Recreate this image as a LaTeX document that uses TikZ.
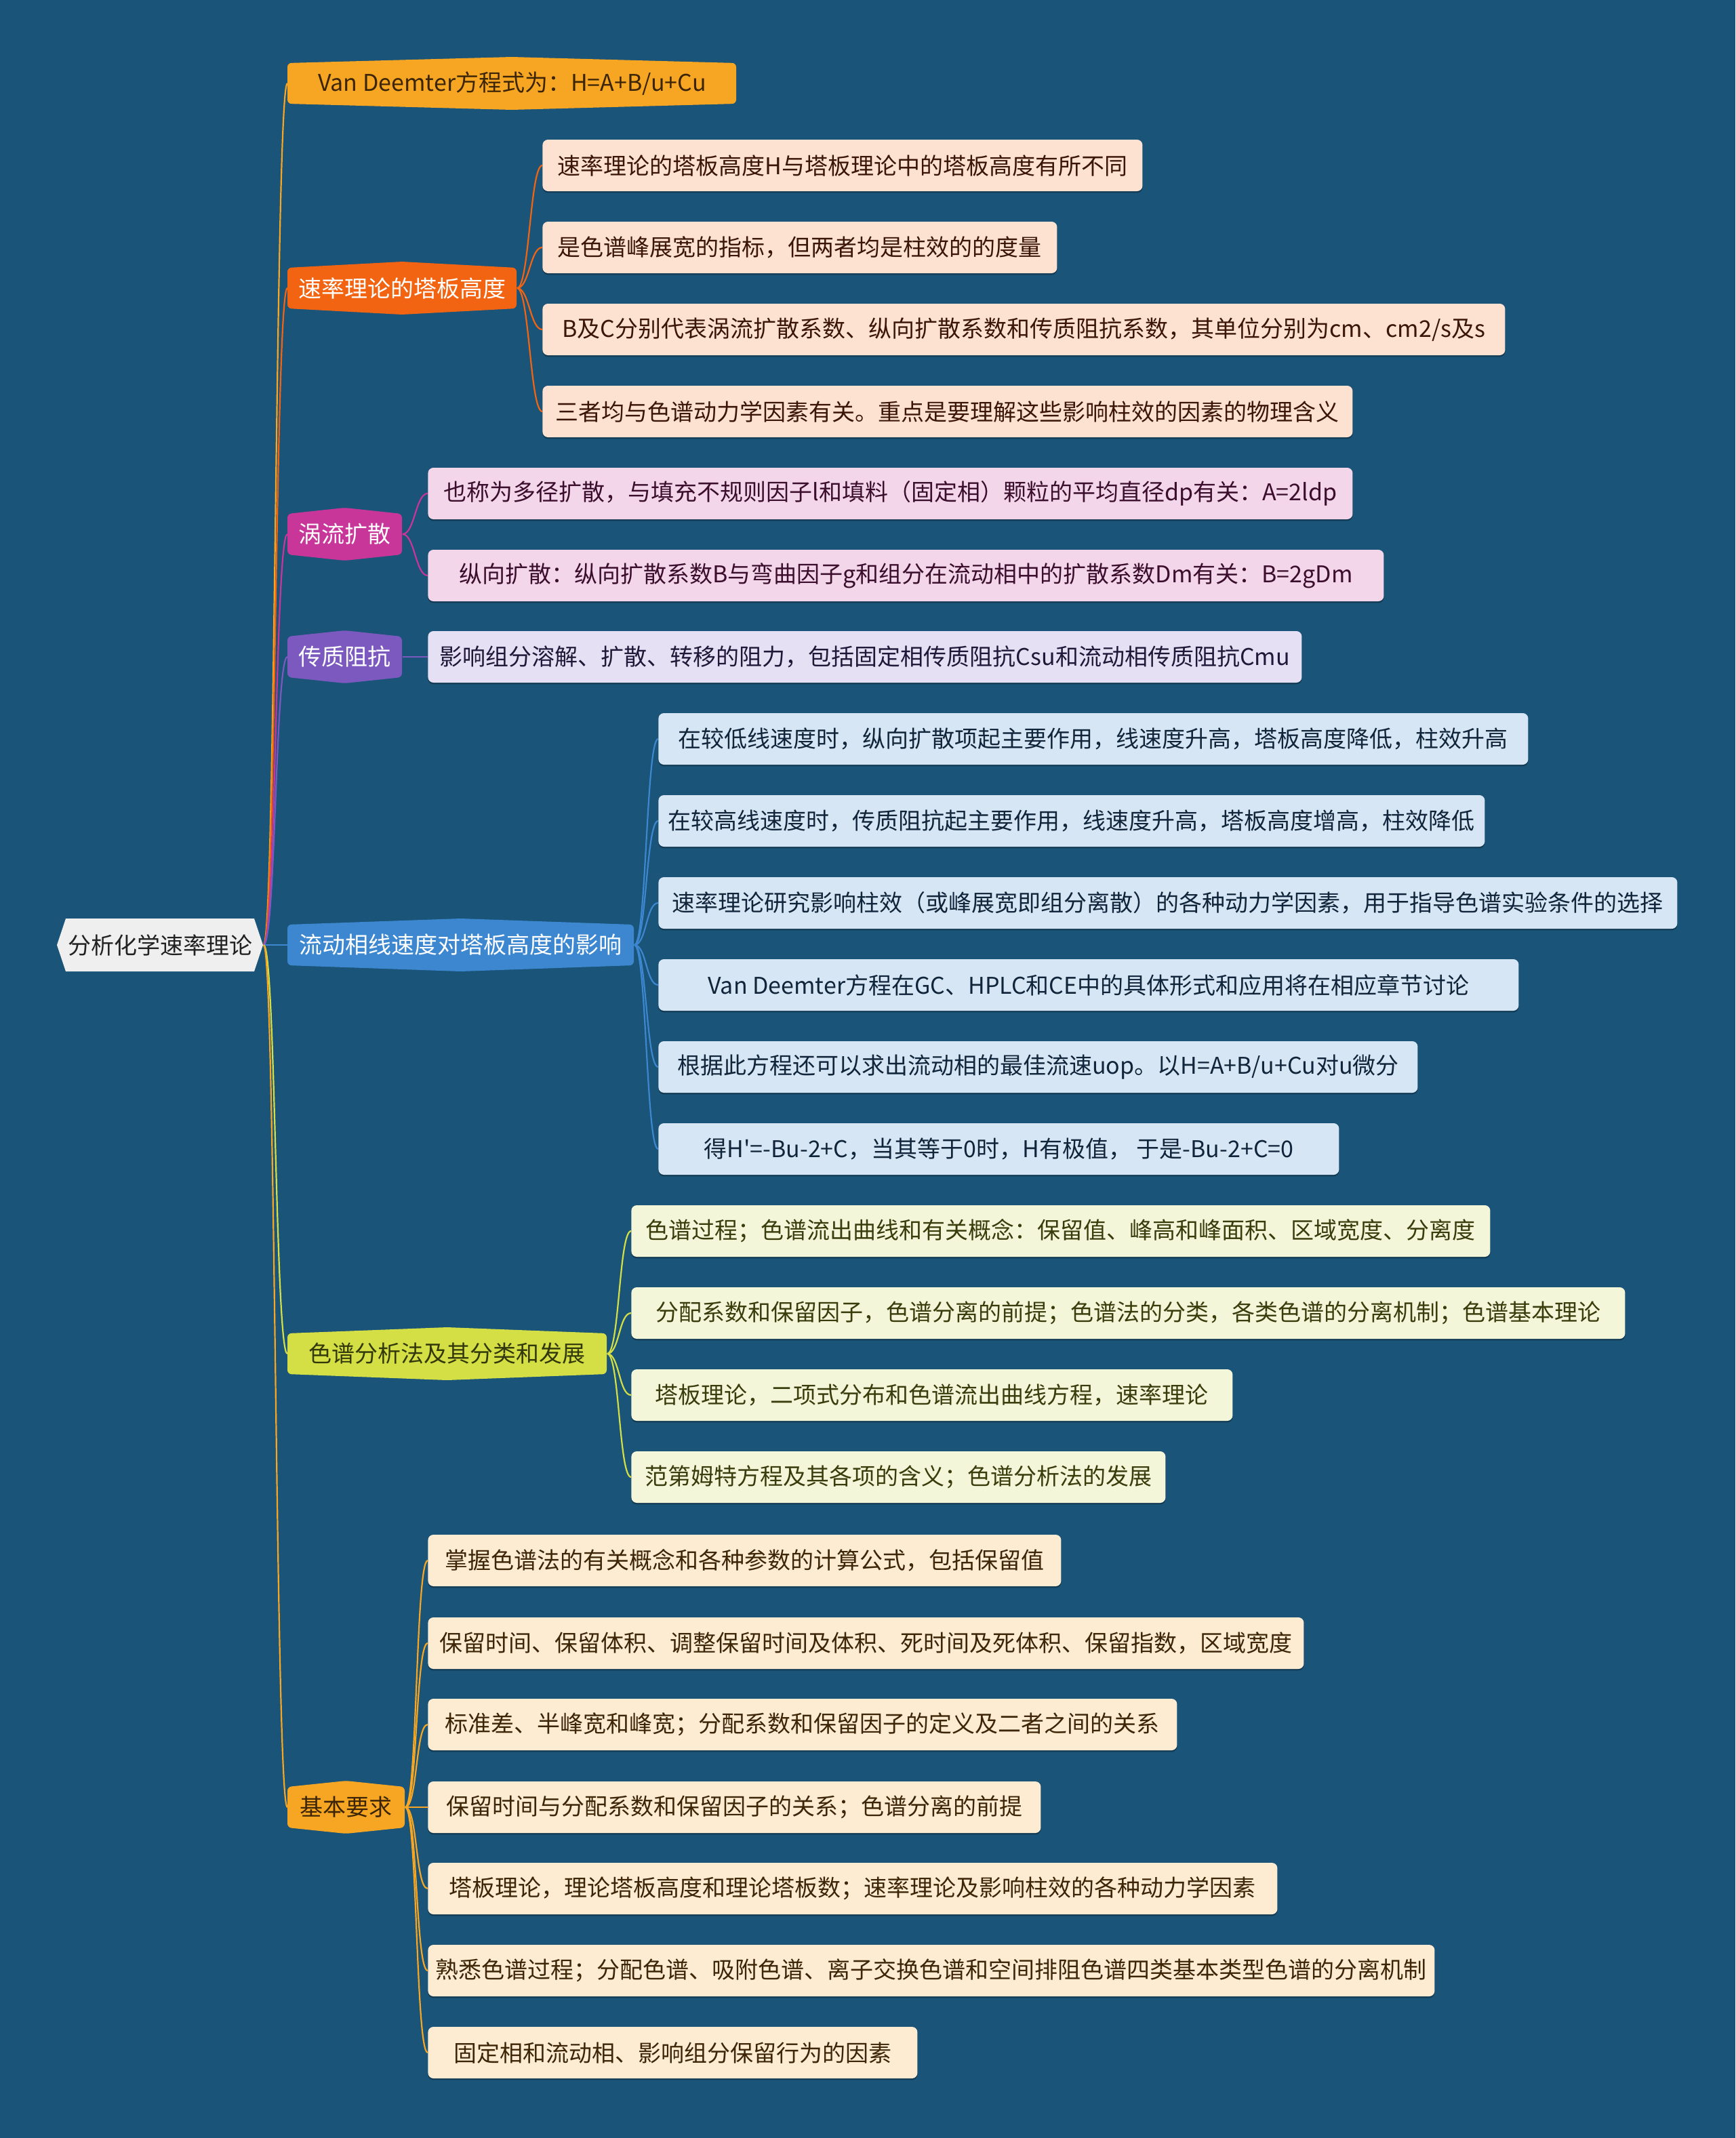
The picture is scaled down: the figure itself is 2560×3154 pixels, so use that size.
\documentclass[tikz,border=0pt]{standalone}
\usepackage{fontspec}
\setmainfont{Noto Sans CJK SC}[Ligatures=TeXOff]
\usetikzlibrary{shadows}
\pgfdeclarelayer{back}
\pgfdeclarelayer{bg}
\pgfsetlayers{back,bg,main}
\definecolor{bgc}{HTML}{1A5478}
\definecolor{rootf}{HTML}{EFEFEF}
\definecolor{roott}{HTML}{222222}
\definecolor{c1}{HTML}{F7A623}
\definecolor{c1t}{HTML}{3B2506}
\definecolor{c2}{HTML}{F26411}
\definecolor{c2l}{HTML}{FDE2D2}
\definecolor{c2lt}{HTML}{3A1508}
\definecolor{c3}{HTML}{C9369A}
\definecolor{c3l}{HTML}{F4D6EA}
\definecolor{c3lt}{HTML}{3A0E2C}
\definecolor{c4}{HTML}{7B59BE}
\definecolor{c4l}{HTML}{E5E0F3}
\definecolor{c4lt}{HTML}{201838}
\definecolor{c5}{HTML}{3C87D0}
\definecolor{c5l}{HTML}{D6E6F5}
\definecolor{c5lt}{HTML}{10253A}
\definecolor{c6}{HTML}{D3DF44}
\definecolor{c6t}{HTML}{33380A}
\definecolor{c6l}{HTML}{F4F6DA}
\definecolor{c6lt}{HTML}{393D0C}
\definecolor{c7}{HTML}{F7A623}
\definecolor{c7l}{HTML}{FDEBD2}
\definecolor{c7lt}{HTML}{3D2507}
\tikzset{
  brtext/.style={anchor=west, inner sep=0pt, minimum height=30pt, font=\fontsize{17}{20}\selectfont},
  leafbox/.style={anchor=west, inner sep=0pt, minimum height=38pt, rounded corners=4pt, font=\fontsize{17}{20}\selectfont,
    drop shadow={shadow xshift=0pt, shadow yshift=-1.2pt, opacity=0.3, fill=black}},
  conn/.style={line width=1.1pt},
}
\newcommand\brnode[7]{%
  \pgfmathsetmacro\bR{#2+#4}%
  \pgfmathsetmacro\bM{#2+#4/2}%
  \pgfmathsetmacro\bT{#3-30}%
  \pgfmathsetmacro\bB{#3+30}%
  \pgfmathsetmacro\bTT{#3-39}%
  \pgfmathsetmacro\bBB{#3+39}%
  \fill[#5, rounded corners=3pt] (#2,#3) -- (#2,\bT) -- (\bM,\bTT) -- (\bR,\bT) -- (\bR,\bB) -- (\bM,\bBB) -- (#2,\bB) -- cycle;
  \node[brtext, text=#6, minimum width=#4*0.5pt] (#1) at (#2,#3) {#7};
}
\newcommand\leafnode[6]{%
  \node[leafbox, fill=#5l, text=#5lt, minimum width=#4*0.5pt] (#1) at (#2,#3) {#6};
  \begin{pgfonlayer}{bg}
  \draw[conn, #5] (br#5.east) .. controls +(18,0) and +(-18,0) .. (#1.west);
  \end{pgfonlayer}
}
\begin{document}
\begin{tikzpicture}[x=0.5pt,y=-0.5pt]
\begin{pgfonlayer}{back}
\fill[bgc] (0,0) rectangle (2560,3154);
\end{pgfonlayer}
\useasboundingbox (0,0) rectangle (2560,3154);

% root
\fill[rootf] (84,1394) -- (97,1355) -- (375,1355) -- (388,1394) -- (375,1433) -- (97,1433) -- cycle;
\node[brtext, text=roott, minimum width=304*0.5pt] (root) at (84,1394) {分析化学速率理论};

% branches
\brnode{brc1}{424}{123}{662}{c1}{c1t}{Van Deemter方程式为：H=A+B/u+Cu}
\brnode{brc2}{424}{425}{338}{c2}{white}{速率理论的塔板高度}
\brnode{brc3}{424}{788}{169}{c3}{white}{涡流扩散}
\brnode{brc4}{424}{969}{169}{c4}{white}{传质阻抗}
\brnode{brc5}{424}{1394}{511}{c5}{white}{流动相线速度对塔板高度的影响}
\brnode{brc6}{424}{1997}{471}{c6}{c6t}{色谱分析法及其分类和发展}
\brnode{brc7}{424}{2666}{173}{c7}{c1t}{基本要求}

\begin{pgfonlayer}{bg}
\foreach \b/\c in {brc1/c1,brc2/c2,brc3/c3,brc4/c4,brc5/c5,brc6/c6,brc7/c7}
  \draw[conn, \c] (root.east) .. controls +(18,0) and +(-18,0) .. (\b.west);
\end{pgfonlayer}

% leaves of branch 2
\leafnode{l2a}{800}{244}{885}{c2}{速率理论的塔板高度H与塔板理论中的塔板高度有所不同}
\leafnode{l2b}{800}{365}{759}{c2}{是色谱峰展宽的指标，但两者均是柱效的的度量}
\leafnode{l2c}{800}{486}{1420}{c2}{B及C分别代表涡流扩散系数、纵向扩散系数和传质阻抗系数，其单位分别为cm、cm2/s及s}
\leafnode{l2d}{800}{607}{1195}{c2}{三者均与色谱动力学因素有关。重点是要理解这些影响柱效的因素的物理含义}

% branch 3
\leafnode{l3a}{631}{728}{1364}{c3}{也称为多径扩散，与填充不规则因子l和填料（固定相）颗粒的平均直径dp有关：A=2ldp}
\leafnode{l3b}{631}{849}{1410}{c3}{纵向扩散：纵向扩散系数B与弯曲因子g和组分在流动相中的扩散系数Dm有关：B=2gDm}

% branch 4
\leafnode{l4a}{631}{969}{1289}{c4}{影响组分溶解、扩散、转移的阻力，包括固定相传质阻抗Csu和流动相传质阻抗Cmu}

% branch 5
\leafnode{l5a}{971}{1090}{1283}{c5}{在较低线速度时，纵向扩散项起主要作用，线速度升高，塔板高度降低，柱效升高}
\leafnode{l5b}{971}{1211}{1219}{c5}{在较高线速度时，传质阻抗起主要作用，线速度升高，塔板高度增高，柱效降低}
\leafnode{l5c}{971}{1332}{1503}{c5}{速率理论研究影响柱效（或峰展宽即组分离散）的各种动力学因素，用于指导色谱实验条件的选择}
\leafnode{l5d}{971}{1453}{1269}{c5}{Van Deemter方程在GC、HPLC和CE中的具体形式和应用将在相应章节讨论}
\leafnode{l5e}{971}{1574}{1120}{c5}{根据此方程还可以求出流动相的最佳流速uop。以H=A+B/u+Cu对u微分}
\leafnode{l5f}{971}{1695}{1004}{c5}{得H'=-Bu-2+C，当其等于0时，H有极值， 于是-Bu-2+C=0}

% branch 6
\leafnode{l6a}{931}{1816}{1267}{c6}{色谱过程；色谱流出曲线和有关概念：保留值、峰高和峰面积、区域宽度、分离度}
\leafnode{l6b}{931}{1937}{1466}{c6}{分配系数和保留因子，色谱分离的前提；色谱法的分类，各类色谱的分离机制；色谱基本理论}
\leafnode{l6c}{931}{2058}{887}{c6}{塔板理论，二项式分布和色谱流出曲线方程，速率理论}
\leafnode{l6d}{931}{2179}{788}{c6}{范第姆特方程及其各项的含义；色谱分析法的发展}

% branch 7
\leafnode{l7a}{631}{2302}{934}{c7}{掌握色谱法的有关概念和各种参数的计算公式，包括保留值}
\leafnode{l7b}{631}{2424}{1292}{c7}{保留时间、保留体积、调整保留时间及体积、死时间及死体积、保留指数，区域宽度}
\leafnode{l7c}{631}{2544}{1105}{c7}{标准差、半峰宽和峰宽；分配系数和保留因子的定义及二者之间的关系}
\leafnode{l7d}{631}{2666}{904}{c7}{保留时间与分配系数和保留因子的关系；色谱分离的前提}
\leafnode{l7e}{631}{2786}{1253}{c7}{塔板理论，理论塔板高度和理论塔板数；速率理论及影响柱效的各种动力学因素}
\leafnode{l7f}{631}{2907}{1485}{c7}{熟悉色谱过程；分配色谱、吸附色谱、离子交换色谱和空间排阻色谱四类基本类型色谱的分离机制}
\leafnode{l7g}{631}{3028}{722}{c7}{固定相和流动相、影响组分保留行为的因素}
\end{tikzpicture}
\end{document}
